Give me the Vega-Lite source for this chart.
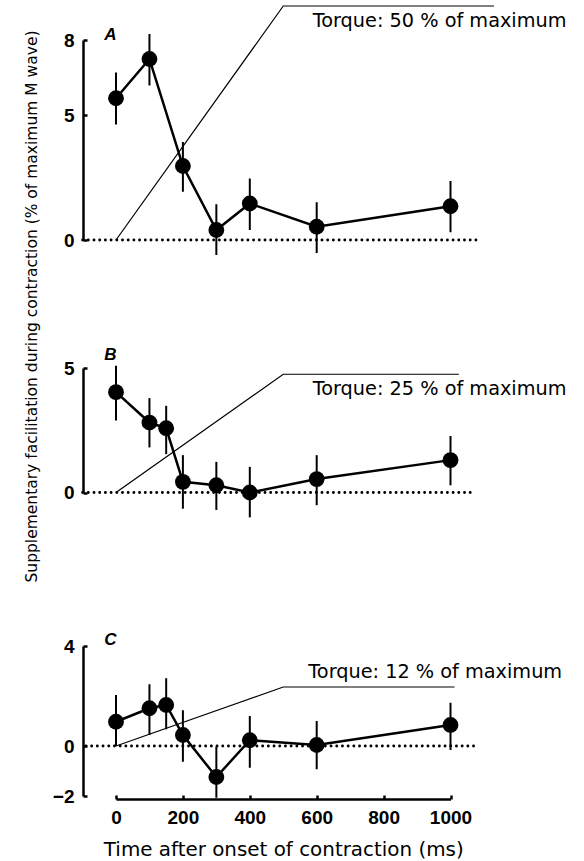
{
  "$schema": "https://vega.github.io/schema/vega-lite/v6.json",
  "background": "white",
  "autosize": {"type": "pad"},
  "padding": {"left": 24, "top": 3, "right": 5, "bottom": 2},
  "config": {
    "view": {"stroke": null},
    "axis": {
      "domainColor": "black", "domainWidth": 2.5, "tickColor": "black", "tickWidth": 2.5, "tickSize": -4,
      "labelColor": "black", "labelFont": "Liberation Sans", "labelFontSize": 19, "labelFontWeight": "bold",
      "labelFlush": false, "labelOverlap": false, "labelBound": false, "grid": false,
      "titleColor": "black", "titleFont": "DejaVu Sans", "titleFontWeight": "normal"
    }
  },
  "datasets": {
    "zero": [
      {"panel": "A", "from": -100, "to": 1080, "v": 0},
      {"panel": "B", "from": -100, "to": 1075, "v": 0},
      {"panel": "C", "from": -90, "to": 1080, "v": 0}
    ],
    "pts": [
      {"panel": "A", "t": 0, "v": 5.67, "lo": 4.62, "hi": 6.70},
      {"panel": "A", "t": 100, "v": 7.24, "lo": 6.18, "hi": 8.24},
      {"panel": "A", "t": 200, "v": 2.96, "lo": 1.93, "hi": 3.92},
      {"panel": "A", "t": 300, "v": 0.40, "lo": -0.60, "hi": 1.43},
      {"panel": "A", "t": 400, "v": 1.46, "lo": 0.40, "hi": 2.46},
      {"panel": "A", "t": 600, "v": 0.53, "lo": -0.52, "hi": 1.51},
      {"panel": "A", "t": 1000, "v": 1.35, "lo": 0.31, "hi": 2.36},
      {"panel": "B", "t": 0, "v": 4.03, "lo": 2.89, "hi": 5.09},
      {"panel": "B", "t": 100, "v": 2.81, "lo": 1.81, "hi": 3.79},
      {"panel": "B", "t": 150, "v": 2.58, "lo": 1.54, "hi": 3.48},
      {"panel": "B", "t": 200, "v": 0.43, "lo": -0.65, "hi": 1.50},
      {"panel": "B", "t": 300, "v": 0.29, "lo": -0.70, "hi": 1.23},
      {"panel": "B", "t": 400, "v": 0.0, "lo": -1.0, "hi": 1.03},
      {"panel": "B", "t": 600, "v": 0.54, "lo": -0.51, "hi": 1.50},
      {"panel": "B", "t": 1000, "v": 1.30, "lo": 0.29, "hi": 2.27},
      {"panel": "C", "t": 0, "v": 0.97, "lo": 0.0, "hi": 2.04},
      {"panel": "C", "t": 100, "v": 1.51, "lo": 0.44, "hi": 2.47},
      {"panel": "C", "t": 150, "v": 1.64, "lo": 0.67, "hi": 2.71},
      {"panel": "C", "t": 200, "v": 0.44, "lo": -0.63, "hi": 1.43},
      {"panel": "C", "t": 300, "v": -1.24, "lo": -2.07, "hi": -0.03},
      {"panel": "C", "t": 400, "v": 0.23, "lo": -0.87, "hi": 1.20},
      {"panel": "C", "t": 600, "v": 0.04, "lo": -0.93, "hi": 1.00},
      {"panel": "C", "t": 1000, "v": 0.84, "lo": -0.16, "hi": 1.73}
    ],
    "torque": [
      {"panel": "A", "step": 1, "t": 0, "v": 0},
      {"panel": "A", "step": 2, "t": 500, "v": 9.36},
      {"panel": "A", "step": 3, "t": 1130, "v": 9.36},
      {"panel": "B", "step": 1, "t": 0, "v": 0},
      {"panel": "B", "step": 2, "t": 500, "v": 4.75},
      {"panel": "B", "step": 3, "t": 1025, "v": 4.75},
      {"panel": "C", "step": 1, "t": 0, "v": 0},
      {"panel": "C", "step": 2, "t": 500, "v": 2.36},
      {"panel": "C", "step": 3, "t": 1012, "v": 2.36}
    ],
    "notes": [
      {"panel": "A", "label": "Torque: 50 % of maximum", "t": 588, "v": 8.53},
      {"panel": "B", "label": "Torque: 25 % of maximum", "t": 588, "v": 3.91},
      {"panel": "C", "label": "Torque: 12 % of maximum", "t": 575, "v": 2.73}
    ],
    "letters": [
      {"panel": "A", "label": "A", "t": -17, "v": 8.2},
      {"panel": "B", "label": "B", "t": -17, "v": 5.53},
      {"panel": "C", "label": "C", "t": -17, "v": 4.24}
    ]
  },
  "vconcat": [
    {
      "width": 334.5, "height": 200,
      "layer": [
        {"data": {"name": "zero"}, "transform": [{"filter": "datum.panel == 'A'"}],
         "mark": {"type": "rule", "strokeDash": [0.1, 5.6], "strokeWidth": 2.8, "strokeCap": "round", "color": "black"},
         "encoding": {"x": {"field": "from", "type": "quantitative", "scale": {"domain": [0, 1000], "nice": false, "zero": false}, "axis": null},
                      "x2": {"field": "to"},
                      "y": {"field": "v", "type": "quantitative", "scale": {"domain": [0, 8], "nice": false, "zero": false},
                            "axis": {"values": [0, 5, 8], "offset": 33, "labelPadding": 13,
                                     "title": "Supplementary facilitation during contraction (% of maximum M wave)",
                                     "titleX": -52, "titleY": 266, "titleAngle": -90, "titleAlign": "center", "titleBaseline": "middle", "titleFontSize": 15.5}}}},
        {"data": {"name": "torque"}, "transform": [{"filter": "datum.panel == 'A'"}],
         "mark": {"type": "line", "strokeWidth": 1.2, "color": "black"},
         "encoding": {"x": {"field": "t", "type": "quantitative", "scale": {"domain": [0, 1000]}}, "y": {"field": "v", "type": "quantitative", "scale": {"domain": [0, 8]}}, "order": {"field": "step"}}},
        {"data": {"name": "pts"}, "transform": [{"filter": "datum.panel == 'A'"}],
         "mark": {"type": "rule", "strokeWidth": 2, "color": "black"},
         "encoding": {"x": {"field": "t", "type": "quantitative", "scale": {"domain": [0, 1000]}}, "y": {"field": "lo", "type": "quantitative", "scale": {"domain": [0, 8]}}, "y2": {"field": "hi"}}},
        {"data": {"name": "pts"}, "transform": [{"filter": "datum.panel == 'A'"}],
         "mark": {"type": "line", "strokeWidth": 2.5, "color": "black"},
         "encoding": {"x": {"field": "t", "type": "quantitative", "scale": {"domain": [0, 1000]}}, "y": {"field": "v", "type": "quantitative", "scale": {"domain": [0, 8]}}}},
        {"data": {"name": "pts"}, "transform": [{"filter": "datum.panel == 'A'"}],
         "mark": {"type": "circle", "size": 250, "opacity": 1, "color": "black"},
         "encoding": {"x": {"field": "t", "type": "quantitative", "scale": {"domain": [0, 1000]}}, "y": {"field": "v", "type": "quantitative", "scale": {"domain": [0, 8]}}}},
        {"data": {"name": "letters"}, "transform": [{"filter": "datum.panel == 'A'"}],
         "mark": {"type": "text", "font": "Liberation Sans", "fontSize": 17, "fontWeight": "bold", "fontStyle": "italic", "align": "center", "baseline": "middle", "color": "black"},
         "encoding": {"x": {"field": "t", "type": "quantitative", "scale": {"domain": [0, 1000]}}, "y": {"field": "v", "type": "quantitative", "scale": {"domain": [0, 8]}}, "text": {"field": "label"}}},
        {"data": {"name": "notes"}, "transform": [{"filter": "datum.panel == 'A'"}],
         "mark": {"type": "text", "font": "DejaVu Sans", "fontSize": 19.3, "align": "left", "baseline": "alphabetic", "color": "black"},
         "encoding": {"x": {"field": "t", "type": "quantitative", "scale": {"domain": [0, 1000]}}, "y": {"field": "v", "type": "quantitative", "scale": {"domain": [0, 8]}}, "text": {"field": "label"}}}
      ]
    },
    {
      "width": 334.5, "height": 149.2,
      "layer": [
        {"data": {"name": "zero"}, "transform": [{"filter": "datum.panel == 'B'"}],
         "mark": {"type": "rule", "strokeDash": [0.1, 5.6], "strokeWidth": 2.8, "strokeCap": "round", "color": "black"},
         "encoding": {"x": {"field": "from", "type": "quantitative", "scale": {"domain": [0, 1000], "nice": false, "zero": false}, "axis": null},
                      "x2": {"field": "to"},
                      "y": {"field": "v", "type": "quantitative", "scale": {"domain": [0, 5], "range": [124.5, 0], "nice": false, "zero": false},
                            "axis": {"values": [0, 5], "offset": 33, "labelPadding": 13, "title": null}}}},
        {"data": {"name": "torque"}, "transform": [{"filter": "datum.panel == 'B'"}],
         "mark": {"type": "line", "strokeWidth": 1.2, "color": "black"},
         "encoding": {"x": {"field": "t", "type": "quantitative", "scale": {"domain": [0, 1000]}}, "y": {"field": "v", "type": "quantitative", "scale": {"domain": [0, 5]}}, "order": {"field": "step"}}},
        {"data": {"name": "pts"}, "transform": [{"filter": "datum.panel == 'B'"}],
         "mark": {"type": "rule", "strokeWidth": 2, "color": "black"},
         "encoding": {"x": {"field": "t", "type": "quantitative", "scale": {"domain": [0, 1000]}}, "y": {"field": "lo", "type": "quantitative", "scale": {"domain": [0, 5]}}, "y2": {"field": "hi"}}},
        {"data": {"name": "pts"}, "transform": [{"filter": "datum.panel == 'B'"}],
         "mark": {"type": "line", "strokeWidth": 2.5, "color": "black"},
         "encoding": {"x": {"field": "t", "type": "quantitative", "scale": {"domain": [0, 1000]}}, "y": {"field": "v", "type": "quantitative", "scale": {"domain": [0, 5]}}}},
        {"data": {"name": "pts"}, "transform": [{"filter": "datum.panel == 'B'"}],
         "mark": {"type": "circle", "size": 250, "opacity": 1, "color": "black"},
         "encoding": {"x": {"field": "t", "type": "quantitative", "scale": {"domain": [0, 1000]}}, "y": {"field": "v", "type": "quantitative", "scale": {"domain": [0, 5]}}}},
        {"data": {"name": "letters"}, "transform": [{"filter": "datum.panel == 'B'"}],
         "mark": {"type": "text", "font": "Liberation Sans", "fontSize": 17, "fontWeight": "bold", "fontStyle": "italic", "align": "center", "baseline": "middle", "color": "black"},
         "encoding": {"x": {"field": "t", "type": "quantitative", "scale": {"domain": [0, 1000]}}, "y": {"field": "v", "type": "quantitative", "scale": {"domain": [0, 5]}}, "text": {"field": "label"}}},
        {"data": {"name": "notes"}, "transform": [{"filter": "datum.panel == 'B'"}],
         "mark": {"type": "text", "font": "DejaVu Sans", "fontSize": 19.3, "align": "left", "baseline": "alphabetic", "color": "black"},
         "encoding": {"x": {"field": "t", "type": "quantitative", "scale": {"domain": [0, 1000]}}, "y": {"field": "v", "type": "quantitative", "scale": {"domain": [0, 5]}}, "text": {"field": "label"}}}
      ]
    },
    {
      "width": 334.5, "height": 150,
      "layer": [
        {"data": {"name": "zero"}, "transform": [{"filter": "datum.panel == 'C'"}],
         "mark": {"type": "rule", "strokeDash": [0.1, 5.6], "strokeWidth": 2.8, "strokeCap": "round", "color": "black"},
         "encoding": {"x": {"field": "from", "type": "quantitative", "scale": {"domain": [0, 1000], "nice": false, "zero": false},
                            "axis": {"values": [0, 100, 200, 300, 400, 500, 600, 700, 800, 900, 1000],
                                     "labelExpr": "datum.value % 200 === 0 ? '' + datum.value : ''",
                                     "offset": 3, "labelPadding": 13,
                                     "title": "Time after onset of contraction (ms)", "titleFontSize": 19.9, "titlePadding": 12}},
                      "x2": {"field": "to"},
                      "y": {"field": "v", "type": "quantitative", "scale": {"domain": [-2, 4], "nice": false, "zero": false},
                            "axis": {"values": [-2, 0, 4], "offset": 33, "labelPadding": 13, "title": null}}}},
        {"data": {"name": "torque"}, "transform": [{"filter": "datum.panel == 'C'"}],
         "mark": {"type": "line", "strokeWidth": 1.2, "color": "black"},
         "encoding": {"x": {"field": "t", "type": "quantitative", "scale": {"domain": [0, 1000]}}, "y": {"field": "v", "type": "quantitative", "scale": {"domain": [-2, 4]}}, "order": {"field": "step"}}},
        {"data": {"name": "pts"}, "transform": [{"filter": "datum.panel == 'C'"}],
         "mark": {"type": "rule", "strokeWidth": 2, "color": "black"},
         "encoding": {"x": {"field": "t", "type": "quantitative", "scale": {"domain": [0, 1000]}}, "y": {"field": "lo", "type": "quantitative", "scale": {"domain": [-2, 4]}}, "y2": {"field": "hi"}}},
        {"data": {"name": "pts"}, "transform": [{"filter": "datum.panel == 'C'"}],
         "mark": {"type": "line", "strokeWidth": 2.5, "color": "black"},
         "encoding": {"x": {"field": "t", "type": "quantitative", "scale": {"domain": [0, 1000]}}, "y": {"field": "v", "type": "quantitative", "scale": {"domain": [-2, 4]}}}},
        {"data": {"name": "pts"}, "transform": [{"filter": "datum.panel == 'C'"}],
         "mark": {"type": "circle", "size": 250, "opacity": 1, "color": "black"},
         "encoding": {"x": {"field": "t", "type": "quantitative", "scale": {"domain": [0, 1000]}}, "y": {"field": "v", "type": "quantitative", "scale": {"domain": [-2, 4]}}}},
        {"data": {"name": "letters"}, "transform": [{"filter": "datum.panel == 'C'"}],
         "mark": {"type": "text", "font": "Liberation Sans", "fontSize": 17, "fontWeight": "bold", "fontStyle": "italic", "align": "center", "baseline": "middle", "color": "black"},
         "encoding": {"x": {"field": "t", "type": "quantitative", "scale": {"domain": [0, 1000]}}, "y": {"field": "v", "type": "quantitative", "scale": {"domain": [-2, 4]}}, "text": {"field": "label"}}},
        {"data": {"name": "notes"}, "transform": [{"filter": "datum.panel == 'C'"}],
         "mark": {"type": "text", "font": "DejaVu Sans", "fontSize": 19.3, "align": "left", "baseline": "alphabetic", "color": "black"},
         "encoding": {"x": {"field": "t", "type": "quantitative", "scale": {"domain": [0, 1000]}}, "y": {"field": "v", "type": "quantitative", "scale": {"domain": [-2, 4]}}, "text": {"field": "label"}}}
      ]
    }
  ],
  "spacing": 128,
  "bounds": "flush"
}
